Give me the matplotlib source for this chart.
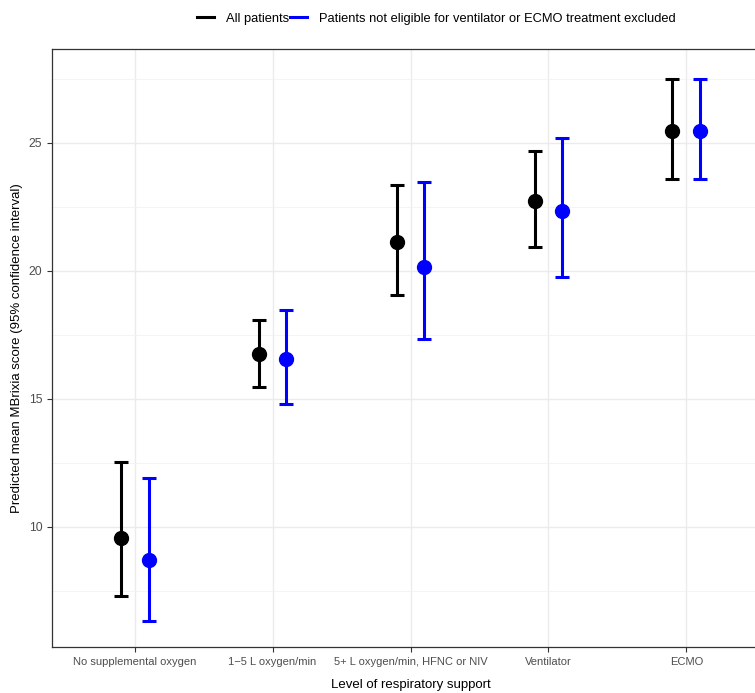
import numpy as np
from matplotlib import pyplot as plt
from matplotlib.lines import Line2D
from matplotlib.ticker import MultipleLocator

plt.rcParams["font.family"] = ["Liberation Sans", "DejaVu Sans"]

categories = [
    "No supplemental oxygen",
    "1\u22125 L oxygen/min",
    "5+ L oxygen/min, HFNC or NIV",
    "Ventilator",
    "ECMO",
]
series_names = [
    "All patients",
    "Patients not eligible for ventilator or ECMO treatment excluded",
]
series_colors = ["black", "#0000FF"]

# point estimate, lower and upper 95% CI
all_mean = [9.57, 16.76, 21.13, 22.75, 25.48]
all_low = [7.30, 15.47, 19.06, 20.94, 23.60]
all_high = [12.54, 18.09, 23.36, 24.70, 27.50]

excl_mean = [8.71, 16.56, 20.16, 22.34, 25.48]
excl_low = [6.33, 14.80, 17.34, 19.77, 23.60]
excl_high = [11.91, 18.48, 23.48, 25.20, 27.50]

series = [
    (all_mean, all_low, all_high),
    (excl_mean, excl_low, excl_high),
]

fig = plt.figure(figsize=(7.55, 6.93), dpi=100)
# panel is cropped on the right in the original
ax = fig.add_axes([52 / 755, 46 / 693, 717 / 755, 598 / 693])

x = np.arange(len(categories))
offsets = [-0.1, 0.1]
for (m, lo, hi), col, off in zip(series, series_colors, offsets):
    m = np.array(m)
    yerr = np.vstack([m - np.array(lo), np.array(hi) - m])
    ax.errorbar(
        x + off, m, yerr=yerr, fmt="o", color=col, ecolor=col,
        markersize=10, elinewidth=2.2, capsize=4.8, capthick=2.2, zorder=3,
    )

ax.set_xlim(-0.6, 4.6)
ax.set_ylim(5.31, 28.67)
ax.set_xticks(x)
ax.set_xticklabels(categories)
ax.yaxis.set_major_locator(MultipleLocator(5))
ax.yaxis.set_minor_locator(MultipleLocator(2.5))

ax.grid(True, which="major", color="#EBEBEB", linewidth=1.0, zorder=0)
ax.grid(True, which="minor", axis="y", color="#F2F2F2", linewidth=0.6, zorder=0)
ax.set_axisbelow(True)

for sp in ax.spines.values():
    sp.set_color("#333333")
    sp.set_linewidth(0.9)

ax.tick_params(axis="both", which="major", labelsize=8, labelcolor="#4D4D4D",
               color="#333333", length=3.5, width=0.8)
ax.tick_params(axis="y", which="major", labelsize=8.8)
ax.tick_params(axis="y", which="minor", length=0)

ax.set_xlabel("Level of respiratory support", fontsize=9.5, labelpad=9)
ax.set_ylabel("Predicted mean MBrixia score (95% confidence interval)", fontsize=9.5, labelpad=4)

handles = [Line2D([0], [0], color=c, linewidth=2.2) for c in series_colors]
fig.legend(
    handles, series_names, loc="center", bbox_to_anchor=(0.578, 0.973),
    ncol=2, frameon=False, fontsize=9.3, handlelength=1.3, handletextpad=0.9,
    columnspacing=0.1,
)

plt.savefig("out.png", dpi=100)
plt.close()
